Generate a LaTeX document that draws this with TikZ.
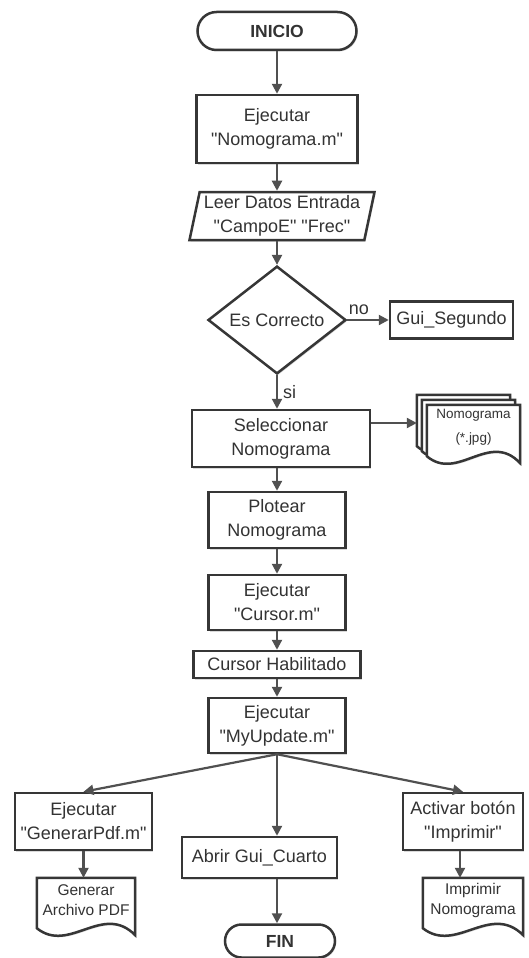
\documentclass[tikz,border=0pt]{standalone}
\usepackage{fontspec}
\setmainfont{Liberation Sans}[Ligatures=TeXOff]
\usepackage{tikz}
\usetikzlibrary{shapes.geometric}
\usetikzlibrary{arrows.meta}
\usetikzlibrary{shadows}
\usetikzlibrary{calc}
\usetikzlibrary{backgrounds}
\usetikzlibrary{positioning}
\definecolor{txt}{HTML}{333333}
\definecolor{edge}{HTML}{363636}
\definecolor{conn}{HTML}{505050}
% outline of a document sheet round node #1, shifted by #2
\newcommand{\docpath}[2]{%
  \draw[docline] ($(#1.north west)+(#2)$) -- ($(#1.north east)+(#2)$)
    -- ($(#1.south east)+(#2)+(0,13)$)
    .. controls ($(#1.south east)!0.33!(#1.south west)+(#2)+(0,-20)$)
    and ($(#1.south east)!0.67!(#1.south west)+(#2)+(0,32)$)
    .. ($(#1.south west)+(#2)+(0,6)$) -- cycle;}

\begin{document}
\begin{tikzpicture}[x=1pt,y=-1pt,
  every node/.style={text=txt,inner sep=0pt,align=center,font=\fontsize{18}{24}\selectfont},
  shade/.style={drop shadow={shadow xshift=1.2pt,shadow yshift=-1.5pt,opacity=0.3}},
  box/.style={draw=edge,line width=2.5pt,fill=white,rectangle,shade},
  term/.style={box,font=\fontsize{17.5}{20}\selectfont\bfseries},
  io/.style={box,trapezium,trapezium left angle=76,trapezium right angle=104,trapezium stretches body},
  decision/.style={box,diamond},
  doc/.style={rectangle,font=\fontsize{15.5}{20}\selectfont},
  docline/.style={draw=edge,line width=2.5pt,fill=white,shade},
  line/.style={draw=conn,line width=2.2pt,-{Triangle[length=10pt,width=10pt]}}]
  \useasboundingbox (0,0) rectangle (528,958);

  \node[term,rounded corners=19pt,minimum width=159pt,minimum height=38pt] (inicio) at (277,31) {INICIO};
  \node[box,minimum width=161pt,minimum height=68pt] (ejec1) at (277,129) {Ejecutar\\"Nomograma.m"};
  \node[io,minimum width=185pt,minimum height=48pt] (leer) at (282,216) {Leer Datos Entrada\\"CampoE" "Frec"};
  \node[decision,minimum width=138pt,minimum height=94pt] (dia) at (277,320) {Es Correcto};
  \node[box,minimum width=123pt,minimum height=37pt] (gui) at (451.5,320) {Gui\_Segundo};
  \node[box,minimum width=178pt,minimum height=57pt] (sel) at (281,438.5) {Seleccionar\\Nomograma};
  \node[doc,minimum width=93pt,minimum height=45pt,font=\fontsize{13.5}{24}\selectfont] (nomo) at (473.5,427.5) {Nomograma\\(*.jpg)};
  \coordinate (nomoin) at ($(nomo.west)+(-10,-4.5)$);
  \node[box,minimum width=137pt,minimum height=56pt] (plot) at (277,520) {Plotear\\Nomograma};
  \node[box,minimum width=137pt,minimum height=55pt] (cur) at (277,602.5) {Ejecutar\\"Cursor.m"};
  \node[box,minimum width=167pt,minimum height=27pt] (hab) at (277,664.5) {Cursor Habilitado};
  \node[box,minimum width=137pt,minimum height=55pt] (myup) at (277,725.5) {Ejecutar\\"MyUpdate.m"};
  \node[box,minimum width=137pt,minimum height=57pt] (genpdf) at (83.5,821.5) {Ejecutar\\"GenerarPdf.m"};
  \node[box,minimum width=155pt,minimum height=41pt] (abrir) at (259.5,857.5) {Abrir Gui\_Cuarto};
  \node[term,rounded corners=16.5pt,minimum width=110pt,minimum height=33pt] (fin) at (280,941) {FIN};
  \node[box,minimum width=120pt,minimum height=57pt] (activar) at (463,821.5) {Activar botón\\"Imprimir"};
  \node[doc,minimum width=98pt,minimum height=44pt] (gendoc) at (86,900) {Generar\\Archivo PDF};
  \node[doc,minimum width=100pt,minimum height=44pt] (impdoc) at (473,900) {Imprimir\\Nomograma};

  \begin{scope}[on background layer]
    \docpath{nomo}{-10,-10}
    \docpath{nomo}{-5,-5}
    \docpath{nomo}{0,0}
    \docpath{gendoc}{0,0}
    \docpath{impdoc}{0,0}
  \end{scope}

  \draw[line] (inicio) -- (ejec1);
  \draw[line] (ejec1) -- (ejec1 |- leer.north);
  \draw[line] (dia.north |- leer.south) -- (dia);
  \draw[line] (dia) -- node[above=4pt,pos=0.28]{no} (dia.east -| gui.west);
  \draw[line] (dia) -- node[right=5pt]{si} (dia.south |- sel.north);
  \draw[line] (sel.east |- nomoin) -- (nomoin);
  \draw[line] (sel.south -| plot) -- (plot);
  \draw[line] (plot) -- (cur);
  \draw[line] (cur) -- (hab);
  \draw[line] (hab) -- (myup);
  \draw[line] (myup.south) -- (genpdf.north);
  \draw[line] (myup.south) -- (myup.south |- abrir.north);
  \draw[line] (myup.south) -- (activar.north);
  \draw[line] (myup.south |- abrir.south) -- (myup.south |- fin.north);
  \draw[line] (genpdf.south) -- (genpdf.south |- gendoc.north);
  \draw[line] ([xshift=-3pt]activar.south) -- ([xshift=-3pt]activar.south |- impdoc.north);
\end{tikzpicture}
\end{document}
